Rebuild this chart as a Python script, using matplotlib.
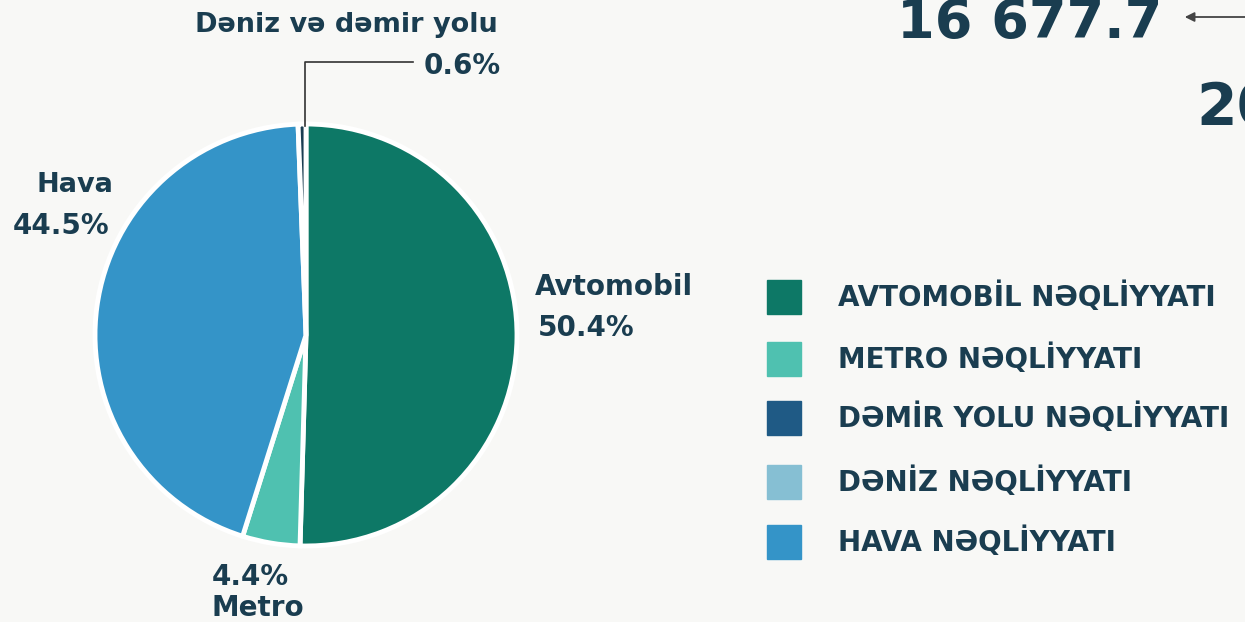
import matplotlib
matplotlib.use('Agg')
import matplotlib.pyplot as plt

plt.rcParams['font.family'] = ['DejaVu Sans']

# pie data (clockwise from top)
labels = ['Avtomobil', 'Metro', 'Hava', 'Dəniz və dəmir yolu']
shares = [50.4, 4.4, 44.5, 0.6]
colors = ['#0d7866', '#4fc1b0', '#3494c8', '#1b3d52']

# legend entries
legend_names = ['AVTOMOBİL NƏQLİYYATI', 'METRO NƏQLİYYATI', 'DƏMİR YOLU NƏQLİYYATI',
                'DƏNİZ NƏQLİYYATI', 'HAVA NƏQLİYYATI']
legend_colors = ['#0d7866', '#4fc1b0', '#1f5a85', '#86bfd3', '#3494c8']

total_value = '16 677.7'

W, H = 1245, 622
bg = '#f8f8f6'
txt = '#1a3d50'

fig = plt.figure(figsize=(W / 100, H / 100), dpi=100, facecolor=bg)

# pie axes: centre (306, 335) px, radius 210 px
cx, cy, r = 306, 335, 211
ax = fig.add_axes([(cx - r) / W, (H - cy - r) / H, 2 * r / W, 2 * r / H])
ax.set_facecolor(bg)
ax.pie(shares, colors=colors, startangle=90, counterclock=False, radius=1,
       wedgeprops=dict(edgecolor='white', linewidth=3.5))
ax.set_xlim(-1.0, 1.0)
ax.set_ylim(-1.0, 1.0)
ax.set_aspect('equal')
ax.axis('off')


def px(x, y):
    return x / W, 1 - y / H


def label(x, y, s, ha='center', size=20):
    fig.text(*px(x, y), s, ha=ha, va='center', fontsize=size,
             fontweight='bold', color=txt)


label(346, 25, 'Dəniz və dəmir yolu', size=19.5)
label(462, 66, f'{shares[3]}%', size=20)
label(75, 185, labels[2], size=19.5)
label(61, 226, f'{shares[2]}%', size=20)
label(535, 287, labels[0], ha='left', size=20)
label(538, 328, f'{shares[0]}%', ha='left', size=20)
label(250, 577, f'{shares[1]}%', size=20)
label(258, 608, labels[1], size=20)

# leader line for the small slice
fig.add_artist(plt.Line2D([305 / W, 305 / W, 413 / W],
                          [1 - 126 / H, 1 - 62 / H, 1 - 62 / H],
                          color='#333333', linewidth=1.2))

# legend squares + text
ys = [297, 359, 418, 482, 542]
for y, name, c in zip(ys, legend_names, legend_colors):
    fig.add_artist(plt.Rectangle(((767) / W, 1 - (y + 17) / H), 34 / W, 34 / H,
                                 color=c, transform=fig.transFigure))
    fig.text(838 / W, 1 - y / H, name, ha='left', va='center', fontsize=20,
             fontweight='bold', color=txt)

# cropped headline numbers
fig.text(897 / W, 1 - 38 / H, total_value, ha='left', va='baseline', fontsize=39,
         fontweight='bold', color=txt)
fig.text(1196 / W, 1 - 125 / H, '20', ha='left', va='baseline', fontsize=42,
         fontweight='bold', color=txt)
fig.add_artist(matplotlib.patches.FancyArrowPatch(
    (1250 / W, 1 - 17 / H), (1182 / W, 1 - 17 / H), transform=fig.transFigure,
    arrowstyle='-|>', mutation_scale=14, color='#444444', linewidth=1.3))

fig.savefig('out.png', dpi=100, facecolor=bg)
